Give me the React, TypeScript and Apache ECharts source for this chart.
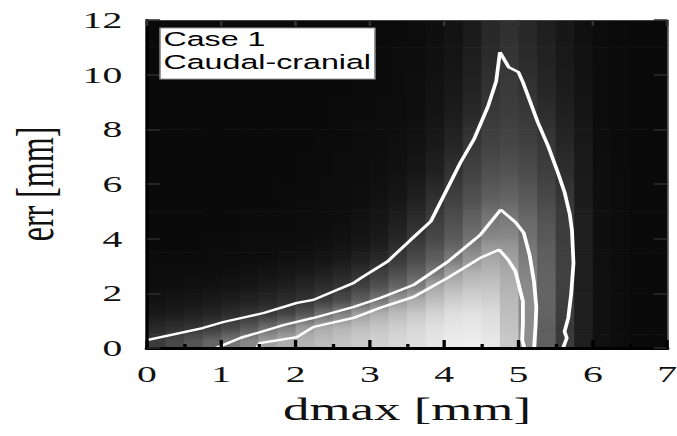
import React, { useEffect, useRef } from 'react';
import * as echarts from 'echarts';

// ---------- data ----------
// heat-map cell edges (x: dmax [mm], y: err [mm])
const dmaxEdges = [0, 0.25, 0.5, 0.75, 1, 1.25, 1.5, 1.75, 2, 2.25, 2.5, 2.75, 3, 3.25, 3.5, 3.75, 4, 4.25, 4.5, 4.75, 5, 5.25, 5.5, 5.75, 6, 6.25, 6.5, 6.75, 7];
const errEdges = [0, 0.5, 1, 1.5, 2, 2.5, 3, 3.5, 4, 5, 6, 7, 8, 9, 10, 11, 12];

// grey level (0 = black, 255 = white) of every cell, rows from bottom (err 0) to top (err 12)
const brightness: number[][] = [
  [60, 72, 85, 100, 118, 135, 160, 172, 180, 188, 195, 202, 208, 215, 222, 230, 236, 238, 232, 200, 140, 95, 58, 30, 16, 12, 10, 10],
  [40, 46, 52, 60, 72, 88, 110, 128, 155, 170, 180, 190, 198, 206, 215, 224, 230, 232, 226, 195, 140, 95, 57, 30, 16, 12, 10, 10],
  [25, 28, 32, 37, 44, 52, 58, 68, 85, 112, 130, 160, 175, 188, 200, 212, 222, 226, 220, 190, 140, 98, 60, 30, 16, 12, 10, 10],
  [18, 20, 22, 25, 29, 33, 38, 45, 52, 62, 75, 95, 120, 155, 172, 190, 205, 212, 208, 185, 140, 100, 62, 30, 16, 12, 10, 10],
  [14, 15, 16, 18, 20, 23, 27, 31, 37, 44, 53, 65, 82, 102, 125, 168, 185, 195, 195, 178, 138, 100, 64, 30, 16, 12, 10, 10],
  [12, 12, 13, 14, 15, 17, 19, 22, 26, 31, 38, 48, 62, 78, 96, 122, 160, 178, 182, 170, 132, 98, 64, 30, 16, 12, 10, 10],
  [11, 11, 11, 12, 12, 13, 14, 16, 18, 21, 25, 32, 42, 58, 75, 95, 122, 150, 168, 160, 124, 95, 63, 30, 15, 12, 10, 10],
  [10, 10, 10, 11, 11, 12, 12, 13, 14, 16, 19, 23, 30, 45, 62, 80, 100, 128, 152, 150, 118, 92, 62, 30, 15, 12, 10, 10],
  [10, 10, 10, 10, 10, 11, 11, 11, 12, 13, 15, 18, 23, 32, 48, 64, 82, 102, 124, 128, 108, 86, 60, 30, 15, 12, 10, 10],
  [10, 10, 10, 10, 10, 10, 10, 11, 11, 12, 12, 14, 17, 22, 32, 48, 64, 80, 95, 100, 90, 72, 55, 28, 15, 12, 10, 10],
  [10, 10, 10, 10, 10, 10, 10, 10, 11, 11, 12, 13, 15, 17, 22, 32, 50, 65, 78, 82, 75, 62, 45, 26, 14, 11, 10, 10],
  [10, 10, 10, 10, 10, 10, 10, 10, 10, 11, 11, 12, 13, 15, 18, 25, 36, 54, 66, 70, 64, 55, 38, 24, 13, 11, 10, 10],
  [10, 10, 10, 10, 10, 10, 10, 10, 10, 10, 11, 11, 12, 13, 15, 20, 28, 42, 58, 62, 57, 46, 32, 21, 12, 11, 10, 10],
  [10, 10, 10, 10, 10, 10, 10, 10, 10, 10, 10, 11, 11, 12, 14, 18, 24, 34, 50, 58, 50, 38, 28, 19, 12, 11, 10, 10],
  [10, 10, 10, 10, 10, 10, 10, 10, 10, 10, 10, 10, 11, 12, 13, 16, 21, 30, 44, 54, 44, 34, 25, 17, 12, 11, 10, 10],
  [10, 10, 10, 10, 10, 10, 10, 10, 10, 10, 10, 10, 11, 11, 12, 15, 19, 27, 40, 48, 40, 31, 23, 16, 12, 11, 10, 10],
];

// contour lines [dmax, err]
const outerContour = [
  [0, 0.29], [0.75, 0.73], [1.03, 0.95], [1.57, 1.28], [2.02, 1.65], [2.24, 1.76], [2.78, 2.38], [2.88, 2.56], [3.24, 3.17],
  [3.55, 3.96], [3.82, 4.63], [4.07, 5.98], [4.22, 6.79], [4.4, 7.63], [4.59, 8.84], [4.7, 9.76], [4.75, 10.82],
  [4.87, 10.27], [5.0, 10.09], [5.06, 9.72], [5.26, 8.26], [5.4, 7.38], [5.53, 6.42], [5.62, 5.7], [5.69, 4.9],
  [5.72, 4.3], [5.74, 3.1], [5.71, 2.0], [5.67, 1.1], [5.62, 0.6], [5.65, 0.37], [5.6, 0],
];
const middleContour = [
  [0.93, 0], [1.26, 0.37], [1.62, 0.66], [1.84, 0.84], [2.24, 1.1], [2.78, 1.5], [3.14, 1.83], [3.59, 2.31], [4.05, 3.16],
  [4.49, 4.15], [4.76, 5.06], [4.96, 4.6], [5.07, 4.22], [5.15, 3.4], [5.21, 2.4], [5.24, 1.5], [5.23, 0.8], [5.21, 0],
];
const innerContour = [
  [1.48, 0], [1.52, 0.18], [2.02, 0.4], [2.24, 0.77], [2.78, 1.1], [3.14, 1.47], [3.59, 1.87], [4.05, 2.57], [4.49, 3.3],
  [4.74, 3.6], [4.86, 3.23], [4.96, 2.8], [5.06, 1.7], [5.06, 0.92], [5.05, 0.29], [5.08, 0],
];

const annotationLines = ['Case 1', 'Caudal-cranial'];
const xName = 'dmax [mm]';
const yName = 'err [mm]';

// ---------- layout ----------
const CHART_W = 410;
const CHART_H = 436;
const STRETCH = 677 / CHART_W;

const cells: number[][] = [];
for (let r = 0; r < brightness.length; r++) {
  for (let c = 0; c < brightness[r].length; c++) {
    cells.push([dmaxEdges[c], dmaxEdges[c + 1], errEdges[r], errEdges[r + 1], brightness[r][c], r, c]);
  }
}

const grey = (v: number) => {
  const g = Math.max(0, Math.min(255, Math.round(v)));
  return `rgb(${g},${g},${g})`;
};

const serif = "'Liberation Serif', 'Times New Roman', serif";

const contourSeries = (data: number[][]) => ({
  type: 'line',
  data,
  showSymbol: false,
  symbol: 'none',
  silent: true,
  clip: true,
  z: 3,
  lineStyle: { color: '#ffffff', width: 2.3 },
});

const option: any = {
  animation: false,
  backgroundColor: '#ffffff',
  textStyle: { fontFamily: serif },
  grid: { left: 89, right: 6, top: 20, bottom: 88, show: false, containLabel: false, outerBoundsMode: 'none' },
  xAxis: [
    {
      type: 'value', min: 0, max: 7, interval: 1, position: 'bottom', z: 5,
      axisLine: { show: true, onZero: false, lineStyle: { color: '#000', width: 3 } },
      axisTick: { show: true, inside: true, length: 8, lineStyle: { color: '#000', width: 2 } },
      minorTick: { show: true, splitNumber: 2, length: 4, lineStyle: { color: '#000', width: 2 } },
      axisLabel: { fontFamily: serif, fontSize: 24, color: '#111', margin: 14 },
      splitLine: { show: false },
      name: xName, nameLocation: 'middle', nameGap: 45,
      nameTextStyle: { fontFamily: serif, fontSize: 32, color: '#111' },
    },
    {
      type: 'value', min: 0, max: 7, interval: 1, position: 'top', z: 5,
      axisLine: { show: true, onZero: false, lineStyle: { color: '#444', width: 1 } },
      axisTick: { show: true, inside: true, length: 6, lineStyle: { color: '#333', width: 1.5 } },
      axisLabel: { show: false },
      splitLine: { show: false },
    },
  ],
  yAxis: [
    {
      type: 'value', min: 0, max: 12, interval: 2, position: 'left', z: 5,
      axisLine: { show: true, onZero: false, lineStyle: { color: '#000', width: 2 } },
      axisTick: { show: true, inside: true, length: 8, lineStyle: { color: '#2c2c2c', width: 1.5 } },
      axisLabel: { fontFamily: serif, fontSize: 24, color: '#111', margin: 15 },
      splitLine: { show: false },
      name: yName, nameLocation: 'middle', nameGap: 52, nameRotate: 90,
      nameTextStyle: { fontFamily: serif, fontSize: 32, color: '#111' },
    },
    {
      type: 'value', min: 0, max: 12, interval: 2, position: 'right', z: 5,
      axisLine: { show: true, onZero: false, lineStyle: { color: '#444', width: 1 } },
      axisTick: { show: true, inside: true, length: 8, lineStyle: { color: '#2c2c2c', width: 1.5 } },
      axisLabel: { show: false },
      splitLine: { show: false },
    },
  ],
  series: [
    {
      type: 'custom',
      xAxisIndex: 0,
      yAxisIndex: 0,
      data: cells,
      encode: { x: [0, 1], y: [2, 3] },
      silent: true,
      clip: true,
      z: 1,
      renderItem: (params: any, api: any) => {
        const p0 = api.coord([api.value(0), api.value(3)]);
        const p1 = api.coord([api.value(1), api.value(2)]);
        const r = api.value(5);
        const c = api.value(6);
        const v = brightness[r][c];
        const above = r + 1 < brightness.length ? (v + brightness[r + 1][c]) / 2 : v;
        const below = r > 0 ? (v + brightness[r - 1][c]) / 2 : v;
        return {
          type: 'rect',
          shape: { x: p0[0], y: p0[1], width: p1[0] - p0[0] + 0.6, height: p1[1] - p0[1] + 0.6 },
          style: {
            fill: {
              type: 'linear', x: 0, y: 0, x2: 0, y2: 1,
              colorStops: [
                { offset: 0, color: grey(above) },
                { offset: 0.5, color: grey(v) },
                { offset: 1, color: grey(below) },
              ],
            },
          },
        };
      },
    },
    contourSeries(outerContour),
    contourSeries(middleContour),
    contourSeries(innerContour),
  ],
  graphic: [
    {
      type: 'rect', x: 97, y: 28, z: 20,
      shape: { x: 0, y: 0, width: 130, height: 51 },
      style: { fill: '#ffffff', stroke: '#999', lineWidth: 1 },
    },
    {
      type: 'text', x: 99, y: 28, z: 21,
      style: {
        text: annotationLines.join('\n'),
        fontFamily: "'Liberation Sans', Arial, sans-serif", fontSize: 19.5, lineHeight: 23,
        fill: '#000', verticalAlign: 'top', align: 'left',
      },
    },
  ],
};

export default function App() {
  const ref = useRef<HTMLDivElement>(null);
  useEffect(() => {
    if (!ref.current) return;
    const chart = echarts.init(ref.current, null, { renderer: 'svg', width: CHART_W, height: CHART_H });
    chart.setOption(option);
    return () => chart.dispose();
  }, []);
  return (
    <div
      ref={ref}
      style={{
        position: 'absolute',
        left: 0,
        top: 0,
        width: CHART_W,
        height: CHART_H,
        transform: `scaleX(${STRETCH})`,
        transformOrigin: '0 0',
        background: '#fff',
      }}
    />
  );
}
